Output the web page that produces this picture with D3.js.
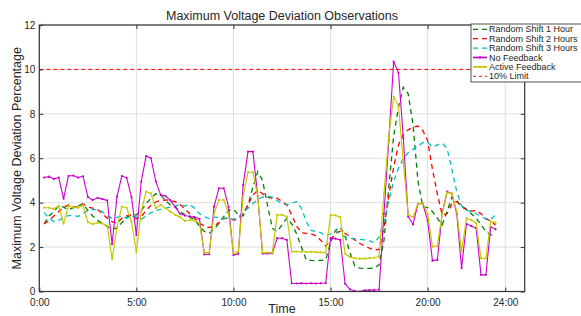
<!DOCTYPE html>
<html>
<head>
<meta charset="utf-8">
<script src="https://cdn.jsdelivr.net/npm/d3@7"></script>
<style>
    body { margin: 0; background: #fff; }
    #chart { width: 581px; height: 316px; overflow: hidden; }
    text { font-family: 'Liberation Sans', Arial, Helvetica, sans-serif; fill: #262626; }
</style>
</head>
<body>
<div id="chart"></div>
<script>
// hour of day for every sample (15 minute steps)
const hours = [
    0.25, 0.5, 0.75, 1, 1.25, 1.5, 1.75, 2, 2.25, 2.5, 2.75, 3, 3.25, 3.5, 3.75, 4,
    4.25, 4.5, 4.75, 5, 5.25, 5.5, 5.75, 6, 6.25, 6.5, 6.75, 7, 7.25, 7.5, 7.75, 8,
    8.25, 8.5, 8.75, 9, 9.25, 9.5, 9.75, 10, 10.25, 10.5, 10.75, 11, 11.25, 11.5, 11.75, 12,
    12.25, 12.5, 12.75, 13, 13.25, 13.5, 13.75, 14, 14.25, 14.5, 14.75, 15, 15.25, 15.5, 15.75, 16,
    16.25, 16.5, 16.75, 17, 17.25, 17.5, 17.75, 18, 18.25, 18.5, 18.75, 19, 19.25, 19.5, 19.75, 20,
    20.25, 20.5, 20.75, 21, 21.25, 21.5, 21.75, 22, 22.25, 22.5, 22.75, 23, 23.25, 23.5
]

const shift1Hour = [
    3.05, 3.4, 3.6, 3.88, 3.8, 3.68, 3.78, 3.85, 3.95, 3.65,
    3.4, 3.2, 3.07, 2.92, 2.82, 2.85, 3.1, 3.34, 3.45, 3.45,
    3.65, 3.95, 4.2, 4.4, 4.35, 4.1, 3.9, 3.82, 3.6, 3.45,
    3.35, 3.22, 2.95, 2.7, 2.62, 2.8, 3.07, 3.37, 3.65, 3.7,
    3.45, 3.4, 3.9, 4.7, 5.4, 5.0, 3.9, 2.85, 2.7, 3.0,
    3.3, 3.05, 2.6, 2.0, 1.42, 1.4, 1.39, 1.4, 1.42, 2.2,
    2.75, 2.9, 2.5, 1.75, 1.15, 1.05, 1.04, 1.04, 1.05, 1.2,
    2.3, 4.7, 7.0, 8.3, 9.2, 8.9, 7.5, 5.0, 3.82, 3.78,
    3.6, 3.3, 3.0, 3.6, 4.25, 4.1, 3.8, 3.7, 3.5, 3.3,
    3.0, 2.7, 2.55, 2.5
]

const shift2Hours = [
    3.04, 3.2, 3.4, 3.6, 3.8, 3.9, 3.82, 3.8, 3.95, 3.8,
    3.75, 3.7, 3.5, 3.3, 3.15, 3.07, 3.3, 3.4, 3.45, 3.28,
    3.37, 3.65, 3.88, 4.03, 4.1, 4.12, 4.1, 4.05, 3.92, 3.72,
    3.5, 3.3, 3.08, 2.95, 2.88, 2.95, 3.1, 3.28, 3.3, 3.22,
    3.25, 3.5, 3.9, 4.35, 4.55, 4.4, 4.25, 4.2, 4.2, 4.05,
    3.9, 3.45, 2.95, 2.65, 2.62, 2.6, 2.5, 2.3, 2.05, 2.3,
    2.62, 2.72, 2.62, 2.47, 2.32, 2.17, 2.05, 1.95, 1.87, 1.9,
    2.9, 4.3, 5.6, 6.6, 7.1, 7.28, 7.4, 7.45, 7.25, 6.8,
    5.5, 4.4, 3.45, 3.5, 3.95, 4.05, 3.85, 3.7, 3.62, 3.65,
    3.5, 3.3, 3.15, 3.0
]

const shift3Hours = [
    3.55, 3.3, 3.15, 3.2, 3.32, 3.42, 3.43, 3.38, 3.52, 3.63,
    3.7, 3.68, 3.6, 3.4, 3.3, 3.34, 3.4, 3.3, 3.4, 3.35,
    3.25, 3.4, 3.55, 3.65, 3.7, 3.75, 3.8, 3.85, 3.92, 3.85,
    3.92, 3.75, 3.5, 3.37, 3.28, 3.35, 3.33, 3.3, 3.3, 3.25,
    3.35, 3.55, 3.75, 3.95, 4.15, 4.25, 4.28, 4.25, 4.1, 3.95,
    3.92, 3.97, 4.05, 3.75, 3.15, 2.75, 2.7, 2.65, 2.5, 2.6,
    2.72, 2.6, 2.45, 2.4, 2.38, 2.35, 2.32, 2.28, 2.2, 2.45,
    3.15, 4.1, 4.95, 5.55, 6.0, 6.25, 6.4, 6.55, 6.7, 6.72,
    6.5, 6.6, 6.68, 6.45, 5.5, 4.5, 3.85, 3.67, 3.6, 3.5,
    3.4, 3.25, 3.25, 3.45
]

const noFeedback = [
    5.13, 5.17, 5.07, 5.13, 4.18, 5.2, 5.22, 5.13, 5.19, 4.26,
    4.12, 4.22, 4.16, 4.1, 2.13, 4.27, 5.2, 5.12, 4.24, 2.54,
    4.95, 6.1, 6.0, 4.96, 4.35, 4.3, 4.1, 3.8, 3.5, 3.42,
    3.38, 3.35, 3.27, 1.67, 1.68, 3.82, 4.65, 4.65, 3.8, 1.64,
    1.7, 4.8, 6.3, 6.3, 4.3, 1.7, 1.7, 1.72, 2.4, 2.4,
    2.32, 0.37, 0.36, 0.37, 0.36, 0.37, 0.36, 0.37, 0.38, 2.4,
    2.38, 2.32, 0.35, 0.1, 0.02, 0.0, 0.05, 0.06, 0.07, 0.08,
    3.5, 6.8, 10.35, 9.85, 6.9, 3.37, 3.02, 3.95, 3.95, 3.2,
    1.39, 1.42, 3.52, 4.5, 4.4, 3.5, 1.05, 3.05, 2.95, 2.85,
    0.75, 0.75, 2.9, 2.8
]

const activeFeedback = [
    3.78, 3.77, 3.72, 3.85, 3.07, 3.84, 3.8, 3.77, 3.88, 3.12,
    3.03, 3.1, 3.06, 2.95, 1.45, 2.9, 3.82, 3.77, 3.15, 1.77,
    3.6, 4.5, 4.42, 3.75, 3.9, 3.75, 3.6, 3.45, 3.35, 3.18,
    3.22, 3.19, 3.07, 1.75, 1.75, 3.5, 4.12, 4.12, 3.5, 1.72,
    1.8, 4.3, 5.37, 5.37, 4.3, 1.75, 1.75, 1.75, 3.45, 3.45,
    3.37, 1.8, 1.8, 1.79, 1.78, 1.78, 1.77, 1.76, 1.75, 3.45,
    3.43, 3.35, 1.7, 1.55, 1.5, 1.48, 1.48, 1.5, 1.52, 1.57,
    4.4, 7.0, 8.77, 8.35, 5.8, 3.45, 3.35, 3.97, 3.97, 3.5,
    2.02, 2.05, 3.5, 4.45, 4.42, 3.6, 1.79, 3.3, 3.22, 3.07,
    1.49, 1.49, 3.15, 3.1
]

const limitPercent = 10
const xTickHours = [0, 5, 10, 15, 20, 24]
const yTickValues = [0, 2, 4, 6, 8, 10, 12]
const legendLabels = ['Random Shift 1 Hour', 'Random Shift 2 Hours', 'Random Shift 3 Hours', 'No Feedback', 'Active Feedback', '10% Limit']

class DeviationChart {
    constructor (options) {
        this.elementId = options.elementId
        this.series = options.series
        this.render()
    }
    render () {
        let el = document.getElementById(this.elementId)
        el.innerHTML = ''
        this.width = 581
        this.height = 316
        this.margin = { top: 25, right: 56.3, bottom: 24.5, left: 39.3 }
        const svg = d3.select(el).append('svg').attr('width', this.width).attr('height', this.height)

        let xScale = d3.scaleLinear().domain([0, 25])
                        .range([this.margin.left, this.width - this.margin.right])
        let yScale = d3.scaleLinear().domain([0, 12])
                        .range([this.height - this.margin.bottom, this.margin.top])
        const left = xScale(0), right = xScale(25), top = yScale(12), bottom = yScale(0)

        // grid
        const grid = svg.append('g').attr('stroke', '#dedede').attr('stroke-width', 1)
        grid.selectAll('.vgrid').data(xTickHours).enter().append('line')
            .attr('x1', d => xScale(d)).attr('x2', d => xScale(d)).attr('y1', top).attr('y2', bottom)
        grid.selectAll('.hgrid').data(yTickValues).enter().append('line')
            .attr('y1', d => yScale(d)).attr('y2', d => yScale(d)).attr('x1', left).attr('x2', right)

        svg.append('clipPath').attr('id', 'plot-clip').append('rect')
            .attr('x', left).attr('y', top).attr('width', right - left).attr('height', bottom - top)
        const plot = svg.append('g').attr('clip-path', 'url(#plot-clip)')

        const line = d3.line().x((d, i) => xScale(hours[i])).y(d => yScale(d))
        this.series.forEach(s => {
            plot.append('path').datum(s.values)
                .attr('d', line)
                .attr('fill', 'none')
                .attr('stroke', s.color)
                .attr('stroke-width', s.width)
                .attr('stroke-dasharray', s.dash || null)
            if (s.marker) {
                plot.selectAll(`.m-${s.key}`).data(s.values).enter().append('circle')
                    .attr('cx', (d, i) => xScale(hours[i])).attr('cy', d => yScale(d))
                    .attr('r', 1.1).attr('fill', s.color)
            }
        })
        plot.append('line')
            .attr('x1', xScale(0)).attr('x2', xScale(25))
            .attr('y1', yScale(limitPercent)).attr('y2', yScale(limitPercent))
            .attr('stroke', '#ff0000').attr('stroke-width', 1).attr('stroke-dasharray', '4,3')

        // axes (ticks inward on all four sides)
        svg.append('g').attr('transform', `translate(0,${bottom})`)
            .call(d3.axisBottom(xScale).tickValues(xTickHours).tickFormat(d => `${d}:00`)
                .tickSizeInner(-4).tickSizeOuter(0).tickPadding(7))
        svg.append('g').attr('transform', `translate(0,${top})`)
            .call(d3.axisTop(xScale).tickValues(xTickHours).tickFormat('').tickSizeInner(-4).tickSizeOuter(0))
        svg.append('g').attr('transform', `translate(${left},0)`)
            .call(d3.axisLeft(yScale).tickValues(yTickValues).tickSizeInner(-4).tickSizeOuter(0).tickPadding(4))
        svg.append('g').attr('transform', `translate(${right},0)`)
            .call(d3.axisRight(yScale).tickValues(yTickValues).tickFormat('').tickSizeInner(-4).tickSizeOuter(0))
        svg.selectAll('.domain').remove()
        svg.selectAll('.tick line').attr('stroke', '#333')
        svg.selectAll('.tick text').style('font-size', '10px').attr('fill', '#262626')
        svg.append('rect').attr('x', left).attr('y', top).attr('width', right - left).attr('height', bottom - top)
            .attr('fill', 'none').attr('stroke', '#333').attr('stroke-width', 1.2)

        svg.append('text').attr('x', (left + right) / 2).attr('y', 20)
            .attr('text-anchor', 'middle').style('font-size', '12.5px')
            .text('Maximum Voltage Deviation Observations')
        svg.append('text').attr('x', (left + right) / 2).attr('y', 313)
            .attr('text-anchor', 'middle').style('font-size', '12.5px').text('Time')
        svg.append('text').attr('transform', `translate(21,${(top + bottom) / 2}) rotate(-90)`)
            .attr('text-anchor', 'middle').style('font-size', '12.5px')
            .text('Maximum Voltage Deviation Percentage')

        // legend
        const legend = svg.append('g').attr('transform', 'translate(471,24)')
        legend.append('rect').attr('width', 130).attr('height', 58)
            .attr('fill', '#fff').attr('stroke', '#262626').attr('stroke-width', 0.8)
        const entries = this.series.concat([{ color: '#ff0000', width: 1, dash: '3,3' }])
        entries.forEach((s, i) => {
            const row = legend.append('g').attr('transform', `translate(0,${5.3 + i * 9.4})`)
            row.append('line').attr('x1', 2).attr('x2', 16)
                .attr('stroke', s.color).attr('stroke-width', s.marker ? s.width + 0.6 : s.width)
                .attr('stroke-dasharray', s.dash ? (s.dash === '3,3' ? '3,3' : '5,4') : null)
            if (s.marker) row.append('circle').attr('cx', 9).attr('r', 1.2).attr('fill', s.color)
            row.append('text').attr('x', 18).attr('dy', '0.35em').style('font-size', '9px').text(legendLabels[i])
        })
    }
}

new DeviationChart({
    elementId: 'chart',
    series: [
        { key: 's1', values: shift1Hour, color: '#008000', width: 1.3, dash: '5,4' },
        { key: 's2', values: shift2Hours, color: '#ff0000', width: 1.3, dash: '5,4' },
        { key: 's3', values: shift3Hours, color: '#00bfbf', width: 1.3, dash: '5,4' },
        { key: 'nf', values: noFeedback, color: '#cc00cc', width: 1.1, marker: true },
        { key: 'af', values: activeFeedback, color: '#c8c800', width: 1.2, marker: true }
    ]
})
</script>
</body>
</html>
